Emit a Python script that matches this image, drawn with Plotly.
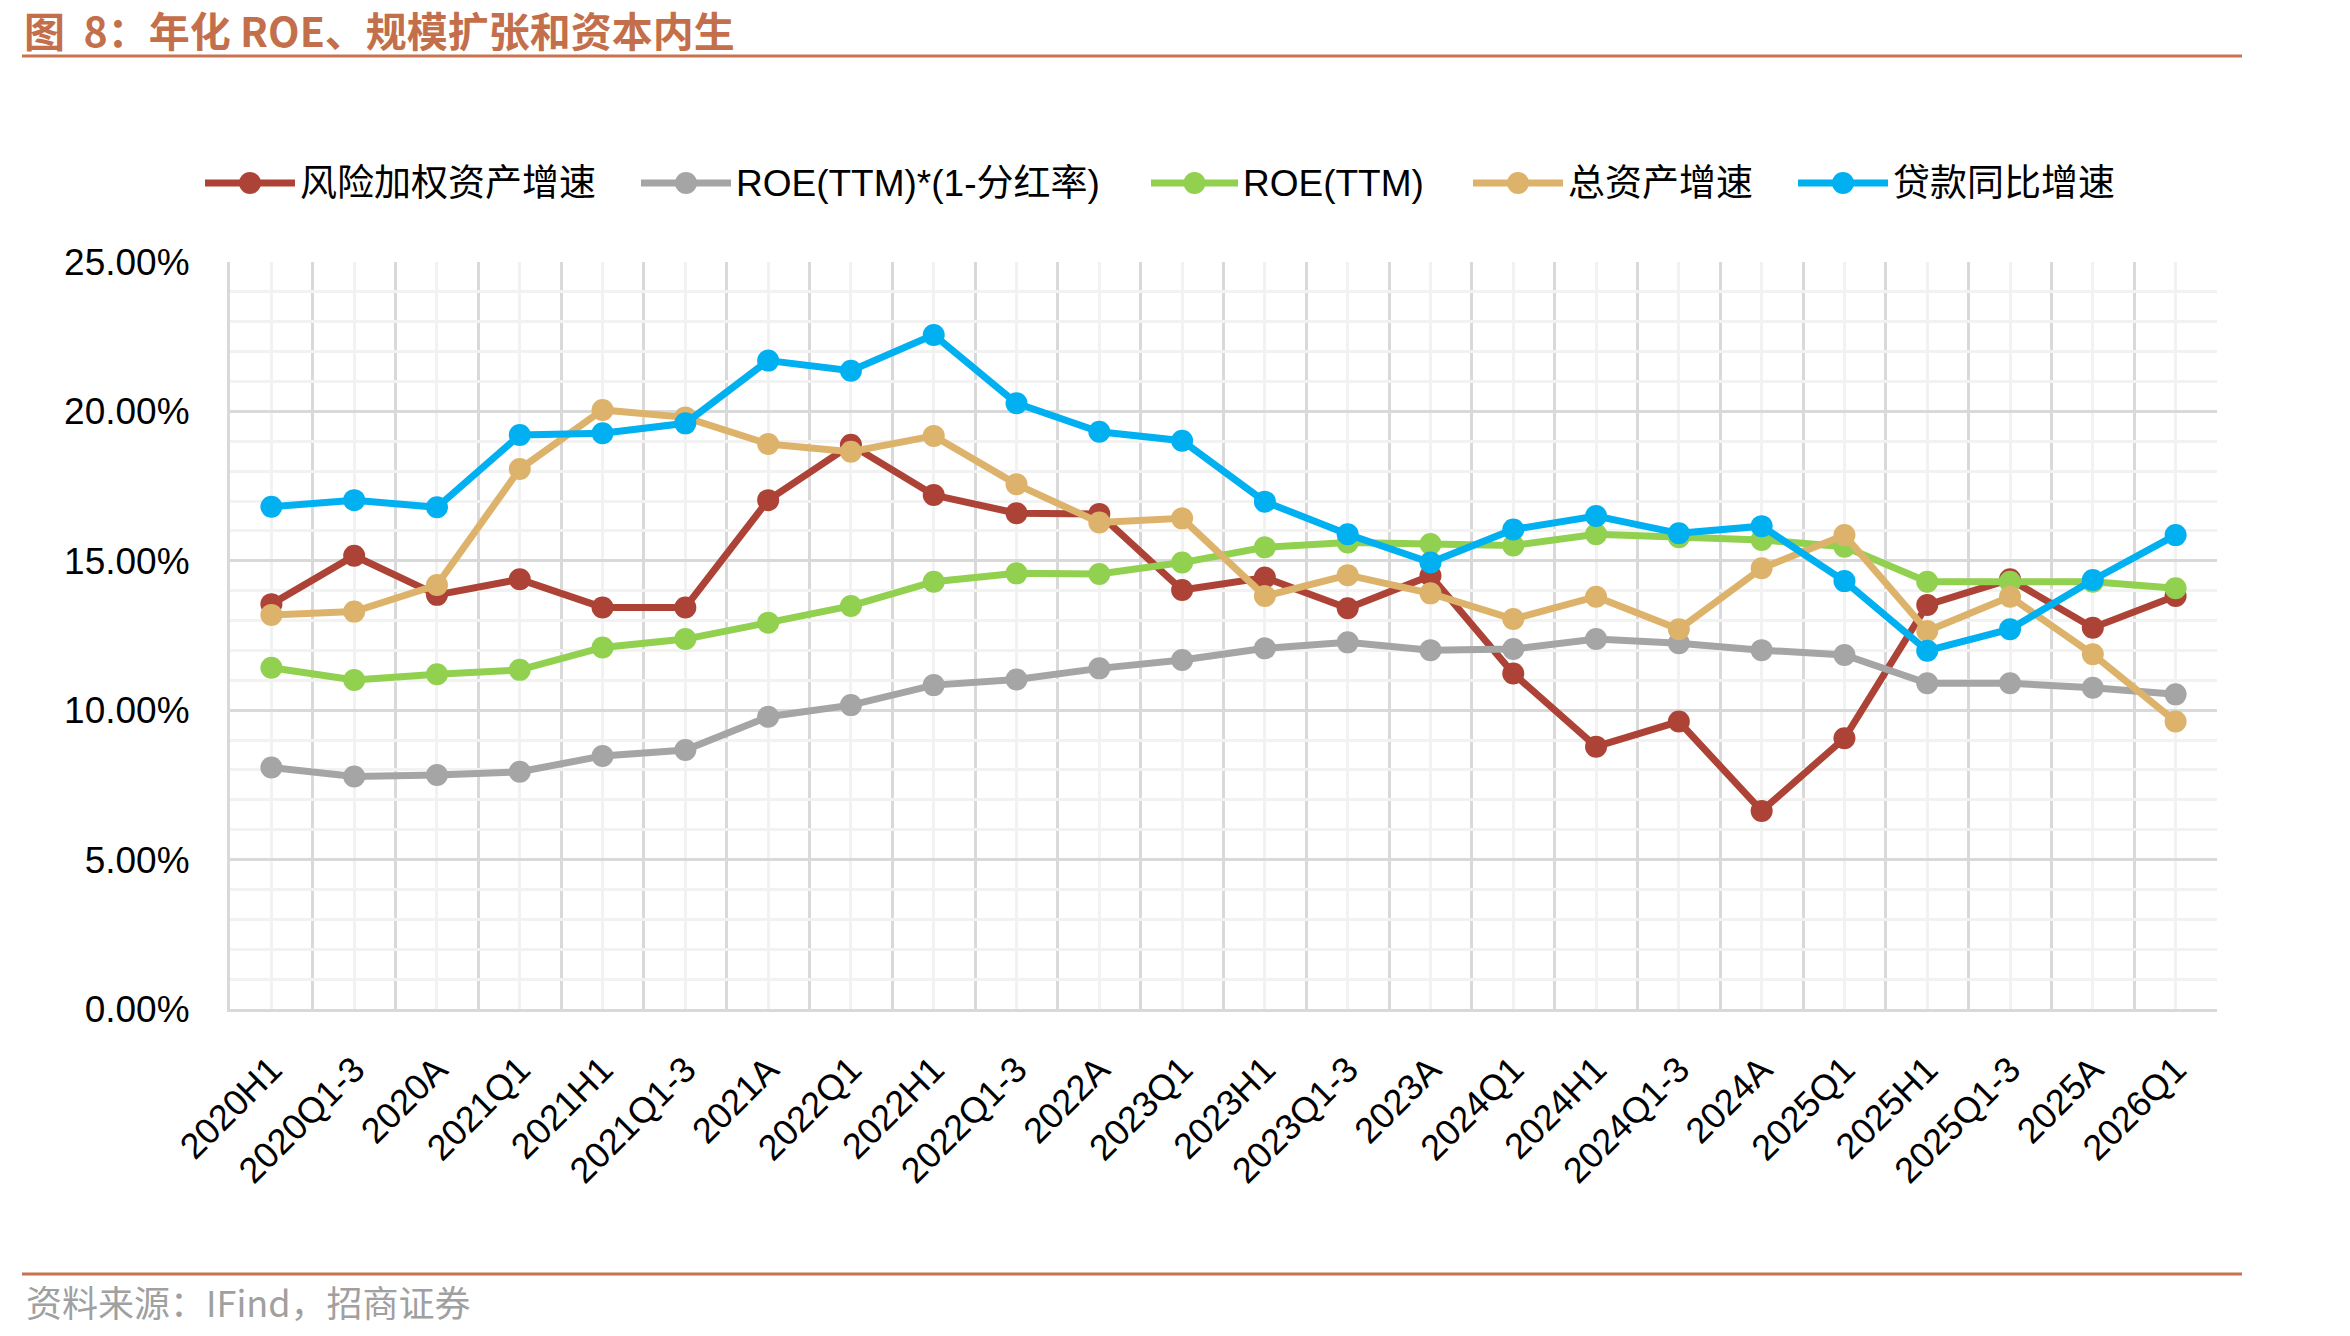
import plotly.graph_objects as go

# ---------------- data ----------------
categories = ["2020H1", "2020Q1-3", "2020A", "2021Q1", "2021H1", "2021Q1-3", "2021A", "2022Q1",
              "2022H1", "2022Q1-3", "2022A", "2023Q1", "2023H1", "2023Q1-3", "2023A", "2024Q1",
              "2024H1", "2024Q1-3", "2024A", "2025Q1", "2025H1", "2025Q1-3", "2025A", "2026Q1"]

rwa_growth = [13.55, 15.17, 13.86, 14.38, 13.44, 13.44, 17.03, 18.88, 17.20, 16.59, 16.57, 14.02,
              14.44, 13.41, 14.50, 11.23, 8.78, 9.62, 6.63, 9.06, 13.52, 14.38, 12.76, 13.82]
roe_retained = [8.08, 7.78, 7.83, 7.94, 8.47, 8.67, 9.78, 10.17, 10.84, 11.03, 11.40, 11.68,
                12.07, 12.27, 12.01, 12.05, 12.38, 12.24, 12.01, 11.85, 10.90, 10.90, 10.75, 10.53]
roe_ttm = [11.42, 11.01, 11.20, 11.35, 12.10, 12.38, 12.93, 13.49, 14.30, 14.58, 14.56, 14.94,
           15.45, 15.61, 15.56, 15.51, 15.89, 15.79, 15.70, 15.47, 14.30, 14.30, 14.30, 14.08]
asset_growth = [13.19, 13.30, 14.19, 18.07, 20.05, 19.80, 18.91, 18.65, 19.18, 17.56, 16.28, 16.42,
                13.82, 14.52, 13.91, 13.05, 13.80, 12.71, 14.75, 15.86, 12.65, 13.80, 11.87, 9.62]
loan_growth = [16.81, 17.03, 16.79, 19.21, 19.27, 19.60, 21.70, 21.36, 22.56, 20.27, 19.32, 19.02,
               16.98, 15.89, 14.94, 16.05, 16.50, 15.92, 16.16, 14.32, 11.99, 12.71, 14.36, 15.86]

series_names = ["风险加权资产增速", "ROE(TTM)*(1-分红率)", "ROE(TTM)", "总资产增速", "贷款同比增速"]
series_values = [rwa_growth, roe_retained, roe_ttm, asset_growth, loan_growth]
series_colors = ["#AD4336", "#A5A5A5", "#92D050", "#DDB36B", "#00B0F0"]

y_ticks = [0, 5, 10, 15, 20, 25]

title_text = "图  8：年化 ROE、规模扩张和资本内生"
source_text = "资料来源：IFind，招商证券"

# ---------------- layout geometry ----------------
W, H = 2350, 1336
L, R, T, B = 230, 2217, 262, 1009
PW, PH = R - L, B - T


def px(xp):
    return (xp - L) / PW


def py(yp):
    return (B - yp) / PH


FONT = "Liberation Sans, Arial, Noto Sans CJK SC, sans-serif"
CJK = "Noto Sans CJK SC, Liberation Sans, sans-serif"

x_idx = list(range(len(categories)))

fig = go.Figure()
for name, vals, col in zip(series_names, series_values, series_colors):
    fig.add_trace(go.Scatter(
        x=x_idx, y=vals, name=name, mode="lines+markers",
        line=dict(color=col, width=7),
        marker=dict(color=col, size=22),
        showlegend=False,
        hovertemplate="%{text}: %{y:.2f}%<extra>" + name + "</extra>",
        text=categories,
    ))

shapes = []
annotations = []

# title & rules
annotations.append(dict(xref="paper", yref="paper", x=px(22), y=py(29), xanchor="left", yanchor="middle",
                        text="<b>" + title_text + "</b>", showarrow=False,
                        font=dict(family=CJK, size=41, color="#C46F4B")))
shapes.append(dict(type="line", xref="paper", yref="paper", x0=px(22), x1=px(2242), y0=py(56), y1=py(56),
                   line=dict(color="#C8734F", width=3)))
shapes.append(dict(type="line", xref="paper", yref="paper", x0=px(22), x1=px(2242), y0=py(1274), y1=py(1274),
                   line=dict(color="#C8734F", width=3)))
annotations.append(dict(xref="paper", yref="paper", x=px(24), y=py(1301), xanchor="left", yanchor="middle",
                        text=source_text, showarrow=False,
                        font=dict(family=CJK, size=36, color="#A0A0A0")))

# manual legend
leg_y = 183
leg_sym = [(205, 295), (641, 731), (1151, 1238), (1473, 1563), (1798, 1888)]
for (x0, x1), name, col in zip(leg_sym, series_names, series_colors):
    shapes.append(dict(type="line", xref="paper", yref="paper", x0=px(x0), x1=px(x1), y0=py(leg_y), y1=py(leg_y),
                       line=dict(color=col, width=7)))
    cx = (x0 + x1) / 2
    shapes.append(dict(type="circle", xref="paper", yref="paper", x0=px(cx - 11), x1=px(cx + 11),
                       y0=py(leg_y + 11), y1=py(leg_y - 11), fillcolor=col, line=dict(width=0)))
    annotations.append(dict(xref="paper", yref="paper", x=px(x1 + 3), y=py(leg_y), xanchor="left", yanchor="middle",
                            text=name, showarrow=False, font=dict(family=FONT, size=37, color="#000000")))

fig.update_layout(
    width=W, height=H,
    margin=dict(l=L, r=W - R, t=T, b=H - B, pad=0),
    paper_bgcolor="white", plot_bgcolor="white",
    shapes=shapes, annotations=annotations,
    font=dict(family=FONT, size=36, color="#000000"),
    xaxis=dict(
        range=[-0.5, len(categories) - 0.5],
        tickmode="array", tickvals=x_idx, ticktext=categories,
        tickangle=-45, tickfont=dict(family=FONT, size=36, color="#000000"),
        showgrid=True, gridcolor="#F2F2F2", gridwidth=3,
        minor=dict(tickmode="array", tickvals=[i - 0.5 for i in range(len(categories) + 1)],
                   showgrid=True, gridcolor="#D9D9D9", gridwidth=3, ticks=""),
        showline=True, linecolor="#D9D9D9", linewidth=3,
        ticks="", zeroline=False, ticklabelstandoff=22, mirror=False,
    ),
    yaxis=dict(
        range=[0, 25], tickmode="array", tickvals=y_ticks,
        ticktext=["%.2f%%" % v for v in y_ticks],
        tickfont=dict(family=FONT, size=37, color="#000000"),
        showgrid=True, gridcolor="#D9D9D9", gridwidth=3,
        minor=dict(dtick=1, showgrid=True, gridcolor="#F2F2F2", gridwidth=3, ticks=""),
        showline=True, linecolor="#D9D9D9", linewidth=3,
        ticks="", zeroline=False, ticklabelstandoff=30,
    ),
)

fig.write_html("out.html")
